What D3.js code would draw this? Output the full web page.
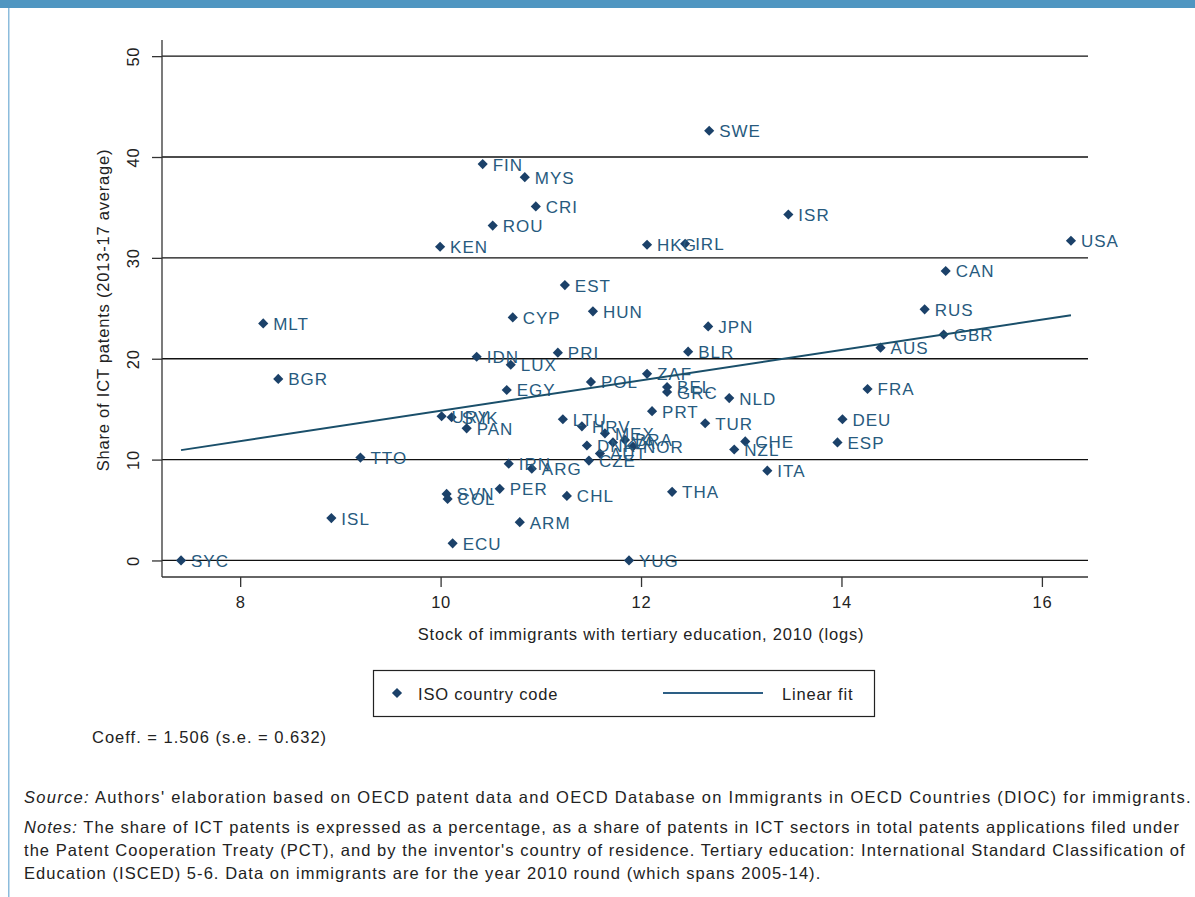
<!DOCTYPE html>
<html>
<head>
<meta charset="utf-8">
<script src="https://cdn.jsdelivr.net/npm/d3@7"></script>
<style>
  html, body { margin: 0; padding: 0; background: #fff; }
  svg { display: block; font-family: "Liberation Sans", Arial, Helvetica, sans-serif; }
</style>
</head>
<body>
<svg id="chart" width="1195" height="897"></svg>
<script>
// Country codes with log stock of tertiary-educated immigrants (2010) and ICT patent share (2013-17 avg.)
const codes = ["SYC","MLT","BGR","ISL","TTO","KEN","IDN","FIN","ROU","MYS","CRI","CYP","LUX","EGY",
  "URY","SVK","PAN","IRN","SVN","COL","ECU","PER","ARM","ARG","CHL","PRI","EST","HUN","POL","LTU",
  "HRV","MEX","BRA","DNK","LVA","NOR","AUT","CZE","SWE","HKG","IRL","ISR","USA","CAN","RUS","GBR",
  "AUS","FRA","DEU","ESP","JPN","BLR","ZAF","BEL","GRC","NLD","PRT","TUR","CHE","NZL","ITA","THA","YUG"];
const immigrantsLog = [7.41,8.23,8.38,8.91,9.20,9.995,10.36,10.42,10.52,10.84,10.95,10.72,10.70,10.66,
  10.01,10.11,10.26,10.68,10.06,10.07,10.12,10.59,10.79,10.91,11.26,11.17,11.24,11.52,11.50,11.22,
  11.41,11.64,11.84,11.46,11.72,11.92,11.59,11.48,12.68,12.06,12.44,13.47,16.29,15.04,14.83,15.02,
  14.39,14.26,14.01,13.96,12.67,12.47,12.06,12.26,12.26,12.88,12.11,12.64,13.04,12.93,13.26,12.31,11.88];
const ictShare = [0.0,23.5,18.0,4.2,10.2,31.1,20.2,39.3,33.2,38.0,35.1,24.1,19.4,16.9,
  14.3,14.2,13.1,9.6,6.6,6.1,1.7,7.1,3.8,9.1,6.4,20.6,27.3,24.7,17.7,14.0,
  13.3,12.6,11.95,11.4,11.7,11.3,10.6,9.9,42.6,31.3,31.4,34.3,31.7,28.7,24.9,22.4,
  21.1,17.0,14.0,11.7,23.2,20.7,18.5,17.2,16.7,16.1,14.8,13.6,11.8,11.0,8.9,6.8,0.0];

const xTicks = [8, 10, 12, 14, 16];
const yTicks = [0, 10, 20, 30, 40, 50];

// Linear fit
const fitSlope = 1.506;
const fitSe = 0.632;
const fitIntercept = -0.22;

const notesLines = [
  "The share of ICT patents is expressed as a percentage, as a share of patents in ICT sectors in total patents applications filed under",
  "the Patent Cooperation Treaty (PCT), and by the inventor's country of residence. Tertiary education: International Standard Classification of",
  "Education (ISCED) 5-6. Data on immigrants are for the year 2010 round (which spans 2005-14)."
];

const markColor = "#1b4169";
const labelColor = "#275a7e";
const lineColor = "#1a4f6a";
const textColor = "#222";
const fs = 16.5;          // chart text size
const ls = "0.8px";       // chart text tracking

const svg = d3.select("#chart");

// Page frame: top band and left rule
svg.append("rect").attr("x", 0).attr("y", 0).attr("width", 1195).attr("height", 8).attr("fill", "#4f96c1");
svg.append("rect").attr("x", 8).attr("y", 8).attr("width", 1.5).attr("height", 889).attr("fill", "#8cbcdc");

const plot = { left: 162, right: 1088, top: 40, bottom: 577 };
const x = d3.scaleLinear().domain([7.22, 16.46]).range([plot.left, plot.right]);
const y = d3.scaleLinear().domain([-1.64, 51.6]).range([plot.bottom, plot.top]);

// Horizontal gridlines
svg.append("g").selectAll("line").data(yTicks).join("line")
  .attr("x1", plot.left).attr("x2", plot.right)
  .attr("y1", d => y(d)).attr("y2", d => y(d))
  .attr("stroke", "#111").attr("stroke-width", 1.3);

// Y axis with rotated tick labels
const yAxis = svg.append("g").attr("transform", `translate(${plot.left},0)`)
  .call(d3.axisLeft(y).tickValues(yTicks).tickSize(10).tickSizeOuter(0));
yAxis.select(".domain").attr("stroke", "#333").attr("stroke-width", 1.3)
  .attr("d", `M0,${plot.top}V${plot.bottom}`);
yAxis.selectAll(".tick line").attr("stroke", "#333").attr("stroke-width", 1.3);
yAxis.selectAll(".tick text")
  .attr("font-size", fs).attr("fill", textColor).attr("letter-spacing", ls)
  .attr("text-anchor", "middle")
  .attr("x", 0).attr("dy", 0)
  .attr("transform", "translate(-29,0) rotate(-90)")
  .attr("dominant-baseline", "central");

// X axis
const xAxis = svg.append("g").attr("transform", `translate(0,${plot.bottom})`)
  .call(d3.axisBottom(x).tickValues(xTicks).tickSize(10).tickSizeOuter(0).tickPadding(9));
xAxis.select(".domain").attr("stroke", "#333").attr("stroke-width", 1.3)
  .attr("d", `M${plot.left},0H${plot.right}`);
xAxis.selectAll(".tick line").attr("stroke", "#333").attr("stroke-width", 1.3);
xAxis.selectAll(".tick text").attr("font-size", fs).attr("fill", textColor).attr("letter-spacing", ls);

// Axis titles
svg.append("text")
  .attr("transform", "translate(109,310) rotate(-90)")
  .attr("text-anchor", "middle").attr("font-size", fs).attr("fill", textColor).attr("letter-spacing", ls)
  .text("Share of ICT patents (2013-17 average)");
svg.append("text")
  .attr("x", 641).attr("y", 640)
  .attr("text-anchor", "middle").attr("font-size", fs).attr("fill", textColor).attr("letter-spacing", ls)
  .text("Stock of immigrants with tertiary education, 2010 (logs)");

const points = codes.map((c, i) => ({ code: c, xv: immigrantsLog[i], yv: ictShare[i] }));

const diamond = d3.symbol().type(d3.symbolDiamond2).size(66);

// Markers
svg.append("g").selectAll("path").data(points).join("path")
  .attr("d", diamond)
  .attr("transform", d => `translate(${x(d.xv)},${y(d.yv)})`)
  .attr("fill", markColor);

// Labels
svg.append("g").selectAll("text").data(points).join("text")
  .attr("x", d => x(d.xv) + 10).attr("y", d => y(d.yv) + 1)
  .attr("dominant-baseline", "central")
  .attr("font-size", 17).attr("letter-spacing", "1px").attr("fill", labelColor)
  .text(d => d.code);

// Fitted line over the observed range
const xExt = d3.extent(immigrantsLog);
svg.append("line")
  .attr("x1", x(xExt[0])).attr("y1", y(fitIntercept + fitSlope * xExt[0]))
  .attr("x2", x(xExt[1])).attr("y2", y(fitIntercept + fitSlope * xExt[1]))
  .attr("stroke", lineColor).attr("stroke-width", 2);

// Legend
const lg = svg.append("g");
lg.append("rect").attr("x", 373.5).attr("y", 670.5).attr("width", 501).attr("height", 46)
  .attr("fill", "#fff").attr("stroke", "#222").attr("stroke-width", 1.2);
lg.append("path").attr("d", diamond).attr("transform", "translate(397,693)").attr("fill", markColor);
lg.append("text").attr("x", 418).attr("y", 694).attr("dominant-baseline", "central")
  .attr("font-size", fs).attr("letter-spacing", ls).attr("fill", textColor).text("ISO country code");
lg.append("line").attr("x1", 663).attr("x2", 763).attr("y1", 693).attr("y2", 693)
  .attr("stroke", "#2d5f85").attr("stroke-width", 2);
lg.append("text").attr("x", 782).attr("y", 694).attr("dominant-baseline", "central")
  .attr("font-size", fs).attr("letter-spacing", ls).attr("fill", textColor).text("Linear fit");

// Coefficient note
svg.append("text").attr("x", 92).attr("y", 743).attr("font-size", fs).attr("letter-spacing", "1px").attr("fill", textColor)
  .text(`Coeff. = ${fitSlope.toFixed(3)} (s.e. = ${fitSe.toFixed(3)})`);

// Source and notes
const noteSize = 16.5;
const src = svg.append("text").attr("x", 24).attr("y", 803)
  .attr("font-size", noteSize).attr("letter-spacing", "1.3px").attr("fill", textColor);
src.append("tspan").attr("font-style", "italic").text("Source:");
src.append("tspan").text(" Authors' elaboration based on OECD patent data and OECD Database on Immigrants in OECD Countries (DIOC) for immigrants.");

notesLines.forEach((line, i) => {
  const t = svg.append("text").attr("x", 24).attr("y", 833 + i * 23)
    .attr("font-size", noteSize).attr("letter-spacing", "1.05px").attr("fill", textColor);
  if (i === 0) {
    t.append("tspan").attr("font-style", "italic").text("Notes:");
    t.append("tspan").text(" " + line);
  } else {
    t.text(line);
  }
});
</script>
</body>
</html>
